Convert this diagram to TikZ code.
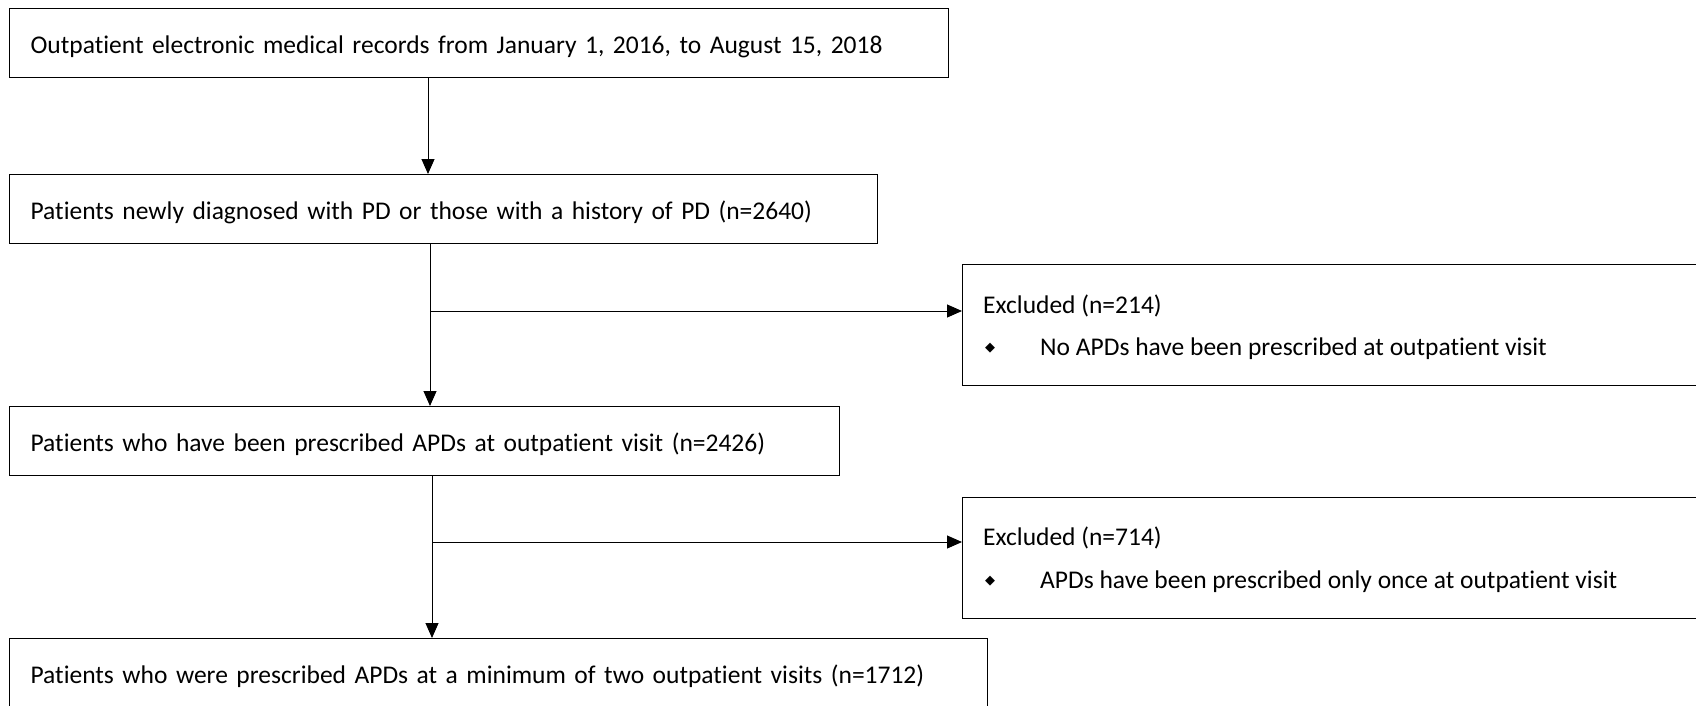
\documentclass[tikz,border=0pt]{standalone}
\usepackage{fontspec}
\setmainfont{Carlito}[RawFeature={-liga;-clig;-calt}]
\newfontfamily\symf{DejaVu Sans}
\usetikzlibrary{arrows.meta}
\newcommand{\bul}{\makebox[57pt][l]{\hspace{2pt}\raisebox{4pt}{\symf\fontsize{13}{13}\selectfont ◆}}}
\begin{document}
\begin{tikzpicture}[x=1pt,y=-1pt,
  mainbox/.style={draw, line width=1.2pt, anchor=north west, inner xsep=21pt, inner ysep=0pt,
    minimum height=69pt, text height=22pt, text depth=2pt, align=left,
    font=\fontsize{25.5}{31}\selectfont},
  exbox/.style={draw, line width=1.2pt, anchor=north west, minimum height=121pt, minimum width=760pt},
  extext/.style={anchor=base west, inner sep=0pt, font=\fontsize{25.5}{31}\selectfont},
  arr/.style={line width=1pt, -{Triangle[length=15pt,width=13pt]}}]
\useasboundingbox (0,0) rectangle (1696,705);
\node[mainbox, minimum width=939pt, text width=897pt] (b1) at (9,8)
  {Outpatient electronic medical records from January 1, 2016, to August 15, 2018};
\node[mainbox, minimum width=868pt, text width=826pt] (b2) at (9,174)
  {Patients newly diagnosed with PD or those with a history of PD (n=2640)};
\node[mainbox, minimum width=830pt, text width=788pt] (b3) at (9,406)
  {Patients who have been prescribed APDs at outpatient visit (n=2426)};
\node[mainbox, minimum width=978pt, text width=936pt] (b4) at (9,638)
  {Patients who were prescribed APDs at a minimum of two outpatient visits (n=1712)};
\node[exbox] (e1) at (962,264) {};
\node[exbox] (e2) at (962,497) {};
\node[extext] (e1a) at ([xshift=21pt,yshift=-49pt]e1.north west) {Excluded (n=214)};
\node[extext] (e1b) at ([xshift=21pt,yshift=-91pt]e1.north west) {\bul No APDs have been prescribed at outpatient visit};
\node[extext] (e2a) at ([xshift=21pt,yshift=-48pt]e2.north west) {Excluded (n=714)};
\node[extext] (e2b) at ([xshift=21pt,yshift=-91pt]e2.north west) {\bul APDs have been prescribed only once at outpatient visit};
\coordinate (x1) at (428,0);
\coordinate (x2) at (430,0);
\coordinate (x3) at (432,0);
\coordinate (j1) at (430,311);
\coordinate (j2) at (432,542);
\draw[arr] (b1.south -| x1) -- (b2.north -| x1);
\draw[arr] (b2.south -| x2) -- (b3.north -| x2);
\draw[arr] (b3.south -| x3) -- (b4.north -| x3);
\draw[arr] (j1) -- (j1 -| e1.west);
\draw[arr] (j2) -- (j2 -| e2.west);
\end{tikzpicture}
\end{document}
